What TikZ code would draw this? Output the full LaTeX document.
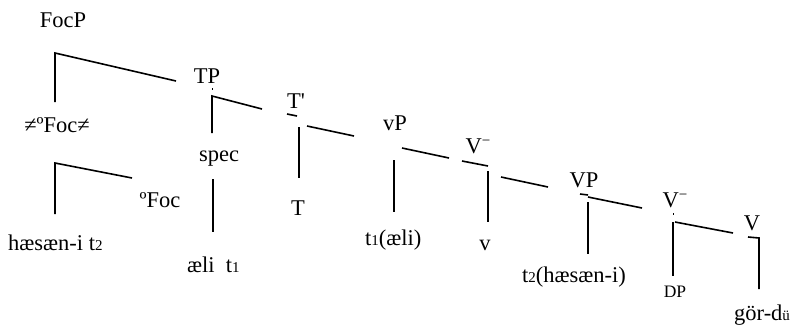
\documentclass[tikz,border=0pt]{standalone}
\usepackage{fontspec}
\setmainfont{Liberation Serif}
\newcommand{\smd}[1]{{\fontsize{15}{15}\selectfont #1}}
\newcommand{\vbar}{V\raisebox{7.5pt}{\fontsize{15}{15}\selectfont −}}
\begin{document}
\begin{tikzpicture}[x=1pt,y=-1pt,
  lbl/.style={inner sep=0pt,anchor=base,font=\fontsize{22.5}{27}\selectfont},
  lblw/.style={lbl,anchor=base west},
  small/.style={inner sep=0pt,anchor=base,font=\fontsize{17.5}{20}\selectfont},
  br/.style={line width=1.6pt}]
\useasboundingbox (0,0) rectangle (791,330);
% labels
\node[lbl] (focp) at (63,27) {FocP};
\node[lbl] (tp) at (207,83) {TP};
\node[lbl] (tbar) at (296,108) {T\textquotesingle};
\node[lbl] (foch) at (57,132) {≠ºFoc≠};
\node[lbl] (spec) at (219,161) {spec};
\node[lbl] (foc) at (160,207) {ºFoc};
\node[lblw] (hasan) at (8,250) {hæsæn-i t\smd{2}};
\node[lblw] (ali) at (187,272) {æli\ \ t\smd{1}};
\node[lbl] (t) at (298,215) {T};
\node[lbl] (vp) at (395,130) {vP};
\node[lblw] (tali) at (365,245) {t\smd{1}(æli)};
\node[lbl] (vbara) at (478,153) {\vbar};
\node[lbl] (v) at (485,250) {v};
\node[lbl] (VP) at (584,187) {VP};
\node[lblw] (thasan) at (522,282) {t\smd{2}(hæsæn-i)};
\node[lbl] (vbarb) at (675,207) {\vbar};
\node[small] (dp) at (675,297) {DP};
\node[lbl] (V) at (752,230) {V};
\node[lblw] (gor) at (734,320) {gör-d\smd{ü}};
% line end points
\coordinate (a1) at (55,102); \coordinate (a2) at (55,53); \coordinate (a3) at (176,81);
\coordinate (b0) at (212,88); \coordinate (b0e) at (212,90);
\coordinate (b1) at (212,96); \coordinate (b2) at (212,133); \coordinate (b3) at (262,109);
\coordinate (c0) at (287,114); \coordinate (c0e) at (297,116);
\coordinate (c1) at (299,127); \coordinate (c2) at (299,178);
\coordinate (c3) at (307,126); \coordinate (c4) at (354,136);
\coordinate (d1) at (55,214); \coordinate (d2) at (55,163); \coordinate (d3) at (132,178);
\coordinate (e1) at (213,179); \coordinate (e2) at (213,232);
\coordinate (f1) at (394,160); \coordinate (f2) at (394,212);
\coordinate (f3) at (402,148); \coordinate (f4) at (449,158);
\coordinate (g0) at (462,161); \coordinate (g0e) at (488,166);
\coordinate (g1) at (488,171); \coordinate (g2) at (488,222);
\coordinate (g3) at (501,177); \coordinate (g4) at (548,187);
\coordinate (h0) at (580,194); \coordinate (h0e) at (588,195);
\coordinate (h1) at (588,197); \coordinate (h2) at (642,208);
\coordinate (h3) at (588,202); \coordinate (h4) at (588,254);
\coordinate (i0) at (673,213); \coordinate (i0e) at (673,215);
\coordinate (i1) at (673,222); \coordinate (i2) at (673,276);
\coordinate (i3) at (675,222); \coordinate (i4) at (733,233);
\coordinate (j0) at (748,237); \coordinate (j1) at (759,238); \coordinate (j2) at (759,289);
% strokes
\draw[br] (a1) -- (a2) -- (a3);
\draw[line width=0.8pt] (b0) -- (b0e);
\draw[br] (b2) -- (b1) -- (b3);
\draw[br] (c0) -- (c0e);
\draw[br] (c1) -- (c2);
\draw[br] (c3) -- (c4);
\draw[br] (d1) -- (d2) -- (d3);
\draw[br] (e1) -- (e2);
\draw[br] (f1) -- (f2);
\draw[br] (f3) -- (f4);
\draw[br] (g0) -- (g0e);
\draw[br] (g1) -- (g2);
\draw[br] (g3) -- (g4);
\draw[br] (h0) -- (h0e);
\draw[br] (h1) -- (h2);
\draw[br] (h3) -- (h4);
\draw[line width=0.8pt] (i0) -- (i0e);
\draw[br] (i1) -- (i2);
\draw[br] (i3) -- (i4);
\draw[br] (j0) -- (j1) -- (j2);
\end{tikzpicture}
\end{document}
